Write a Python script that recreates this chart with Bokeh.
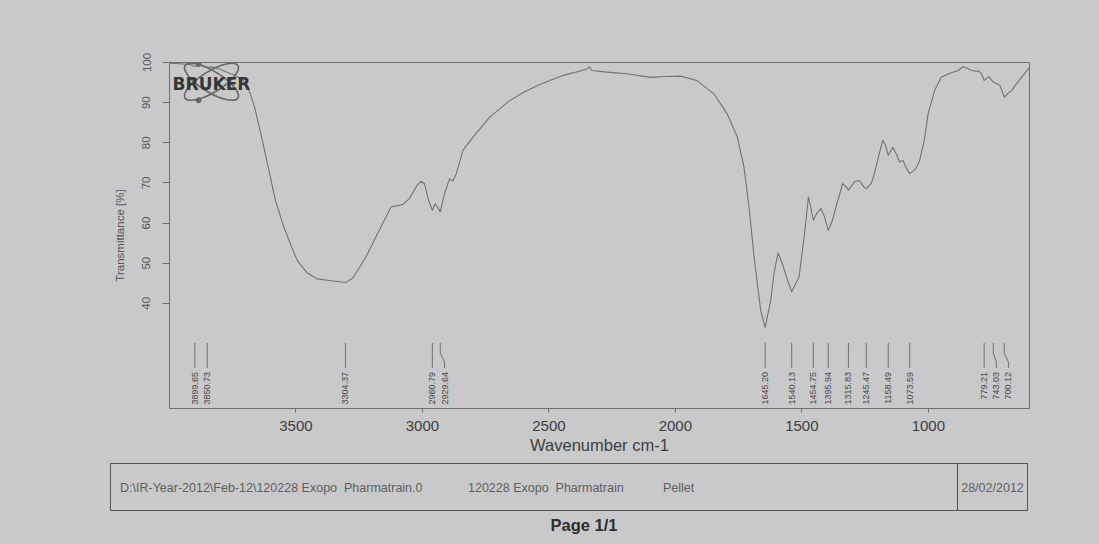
from bokeh.plotting import figure
from bokeh.models import Range1d, FixedTicker, ColumnDataSource, Div
from bokeh.layouts import column
from bokeh.embed import file_html
from bokeh.resources import INLINE
from bokeh.core.properties import value
import math
import html

# ---------------- data ----------------
wavenumber = [
    4000, 3960, 3920, 3899.65, 3880, 3850.73, 3830, 3800, 3770, 3740, 3710, 3680, 3660,
    3633, 3607, 3581, 3548, 3515, 3495, 3458, 3416, 3369, 3304.37, 3277, 3250, 3223, 3171,
    3124, 3078, 3052, 3020, 3005, 2992, 2975, 2960.79, 2950, 2940, 2929.64, 2913, 2893,
    2880, 2866, 2840, 2800, 2734, 2655, 2600, 2536, 2443, 2380, 2350, 2340, 2330, 2271,
    2192, 2099, 2040, 1980, 1914, 1848, 1795, 1755, 1729, 1709, 1689, 1663, 1645.20,
    1623, 1610, 1594, 1575, 1557, 1540.13, 1511, 1491, 1474, 1465, 1454.75, 1440, 1425,
    1410, 1395.94, 1380, 1365, 1339, 1325, 1315.83, 1290, 1273, 1255, 1245.47, 1225,
    1213, 1195, 1180, 1170, 1158.49, 1140, 1125, 1114, 1100, 1085, 1073.59, 1050, 1034,
    1015, 1001, 975, 949, 915, 882, 862, 829, 800, 790, 779.21, 762, 743.03, 725, 717,
    700.12, 685, 671, 650, 631, 600,
]
transmittance = [
    99.8, 99.7, 99.5, 99.0, 99.3, 98.8, 98.9, 98.3, 97.5, 96.8, 95.5, 92.2, 88.0,
    80.6, 73.1, 65.6, 59.0, 53.7, 50.7, 47.7, 46.1, 45.7, 45.2, 46.2, 48.8, 51.6, 58.2,
    64.0, 64.6, 66.1, 69.5, 70.4, 69.8, 65.5, 63.2, 64.8, 64.0, 62.8, 67.3, 71.0,
    70.5, 72.3, 78.1, 81.4, 86.4, 90.5, 92.6, 94.5, 96.8, 97.8, 98.4, 98.9, 98.0, 97.6,
    97.2, 96.3, 96.5, 96.6, 95.5, 92.2, 87.2, 81.4, 74.0, 64.0, 51.6, 38.3, 34.0,
    40.8, 47.5, 52.6, 49.5, 45.8, 42.9, 46.6, 56.5, 66.5, 64.0, 60.7, 62.5, 63.6,
    61.5, 58.2, 60.5, 64.0, 69.8, 69.0, 68.2, 70.4, 70.6, 69.0, 68.5, 70.0,
    72.3, 77.0, 80.6, 79.5, 76.9, 78.9, 77.0, 75.2, 75.6, 73.5, 72.3, 73.5, 75.6,
    81.0, 87.2, 93.0, 96.3, 97.3, 98.0, 99.0, 98.0, 97.8, 97.3, 95.5, 96.5, 95.1, 94.6, 94.3,
    91.4, 92.3, 93.0, 94.8, 96.3, 98.8,
]
peak_wavenumbers = [3899.65, 3850.73, 3304.37, 2960.79, 2929.64, 1645.20, 1540.13,
                    1454.75, 1395.94, 1315.83, 1245.47, 1158.49, 1073.59, 779.21,
                    743.03, 700.12]
x_ticks = [3500, 3000, 2500, 2000, 1500, 1000]
y_ticks = [40, 50, 60, 70, 80, 90, 100]
x_label = "Wavenumber cm-1"
y_label = "Transmittance [%]"
logo_text = "BRUKER"
file_path = "D:\\IR-Year-2012\\Feb-12\\120228 Exopo  Pharmatrain.0"
sample_name = "120228 Exopo  Pharmatrain"
sample_form = "Pellet"
measure_date = "28/02/2012"
page_label = "Page 1/1"

# ---------------- style ----------------
BG = "#c9c9cb"
LINE = "#6c6c6c"
TXT = "#3e3e3e"
FONT = "Liberation Sans"
PLOT_H = 463
FOOT_H = 81

p = figure(width=1099, height=PLOT_H, x_range=Range1d(4000, 600), y_range=Range1d(13.8, 100),
           output_backend="svg", toolbar_location=None,
           min_border_left=169, min_border_right=70, min_border_top=62, min_border_bottom=55)
p.background_fill_color = BG
p.border_fill_color = BG
p.outline_line_color = LINE
p.outline_line_width = 1
p.grid.visible = False

xa = p.xaxis[0]
xa.ticker = FixedTicker(ticks=x_ticks)
xa.axis_line_color = LINE
xa.major_tick_line_color = LINE
xa.major_tick_out = 4
xa.major_tick_in = 0
xa.minor_tick_line_color = None
xa.major_label_text_font = FONT
xa.major_label_text_font_size = "15px"
xa.major_label_text_color = TXT
xa.major_label_standoff = 8
xa.axis_label = x_label
xa.axis_label_text_font = FONT
xa.axis_label_text_font_size = "16.5px"
xa.axis_label_text_font_style = "normal"
xa.axis_label_text_color = TXT
xa.axis_label_standoff = 2

ya = p.yaxis[0]
ya.ticker = FixedTicker(ticks=y_ticks)
ya.axis_line_color = LINE
ya.major_tick_line_color = LINE
ya.major_tick_out = 7
ya.major_tick_in = 0
ya.minor_tick_line_color = None
ya.major_label_orientation = "vertical"
ya.major_label_text_font = FONT
ya.major_label_text_font_size = "11.5px"
ya.major_label_text_color = "#555555"
ya.major_label_standoff = 12
ya.axis_label = y_label
ya.axis_label_text_font = FONT
ya.axis_label_text_font_size = "11.5px"
ya.axis_label_text_font_style = "normal"
ya.axis_label_text_color = "#555555"
ya.axis_label_standoff = 14

# spectrum
p.line(wavenumber, transmittance, line_color="#727272", line_width=1.1, line_join="round")

# peak annotations
MIN_GAP = 48
label_x = []
for i, w in enumerate(peak_wavenumbers):
    if i == 0:
        label_x.append(w)
    else:
        label_x.append(min(w, label_x[-1] - MIN_GAP))
Y_TOP, Y_BEND1, Y_BEND2, Y_END, Y_TEXT = 30.1, 27.6, 25.4, 23.9, 22.9
xs = [[w, w, lx, lx] for w, lx in zip(peak_wavenumbers, label_x)]
ys = [[Y_TOP, Y_BEND1, Y_BEND2, Y_END] for _ in peak_wavenumbers]
p.multi_line(xs, ys, line_color="#666666", line_width=0.9)
psrc = ColumnDataSource(dict(x=label_x, y=[Y_TEXT] * len(label_x),
                             t=["%.2f" % w for w in peak_wavenumbers]))
p.text(x="x", y="y", text="t", source=psrc, angle=math.pi / 2, text_align="right",
       text_baseline="middle", text_font=value(FONT), text_font_size="9px",
       text_color="#484848")

# Bruker logo
LOGO_X, LOGO_Y = 3834, 95.2
p.ellipse(x=[LOGO_X, LOGO_X], y=[LOGO_Y, LOGO_Y], width=[62, 62], height=[21, 21],
          angle=[0.55, -0.55], width_units="screen", height_units="screen",
          fill_color=None, line_color="#666666", line_width=1.6)
p.scatter(x=[3885, 3885], y=[99.6, 90.6], size=5, fill_color="#666666", line_color="#666666")
p.text(x=[LOGO_X], y=[94.7], text=[logo_text], text_align="center", text_baseline="middle",
       text_font=value("DejaVu Sans"), text_font_style="bold", text_font_size="17px",
       text_color="#363636")

# ---------------- footer ----------------
e = html.escape
footer_html = (
    f'<div style="position:relative;width:1099px;height:{FOOT_H}px;background:{BG};'
    f'font-family:\'Liberation Sans\',Arial,sans-serif;font-size:12.5px;color:#5e5e5e;">'
    '<div style="position:absolute;left:110px;top:0px;width:918px;height:48px;'
    'border:1.3px solid #555555;box-sizing:border-box;"></div>'
    '<div style="position:absolute;left:957px;top:0px;width:0px;height:48px;'
    'border-left:1.3px solid #4a4a4a;"></div>'
    f'<span style="position:absolute;left:120px;top:17px;white-space:pre;">{e(file_path)}</span>'
    f'<span style="position:absolute;left:468px;top:17px;white-space:pre;">{e(sample_name)}</span>'
    f'<span style="position:absolute;left:663px;top:17px;white-space:pre;">{e(sample_form)}</span>'
    f'<span style="position:absolute;left:957px;width:71px;text-align:center;top:17px;'
    f'white-space:pre;">{e(measure_date)}</span>'
    f'<span style="position:absolute;left:489px;width:190px;text-align:center;top:51px;'
    f'font-weight:bold;font-size:16.5px;color:#2e2e2e;white-space:pre;">{e(page_label)}</span>'
    '</div>'
)
footer = Div(text=footer_html, width=1099, height=FOOT_H, margin=(0, 0, 0, 0),
             styles={"background-color": BG})

layout = column(p, footer, spacing=0, styles={"background-color": BG})
open("out.html", "w").write(file_html(layout, INLINE))
